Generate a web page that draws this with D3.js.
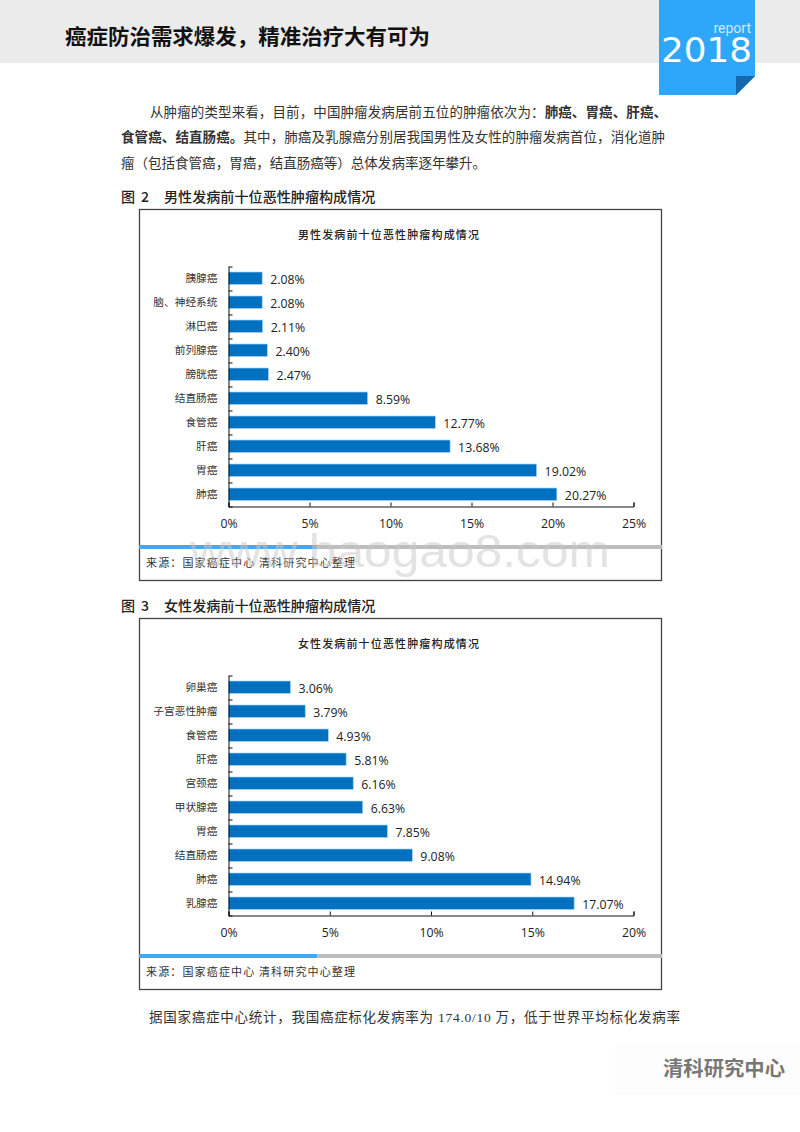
<!DOCTYPE html>
<meta charset="utf-8">
<style>
body { margin: 0; background: #fff; }
text { font-family: "Noto Sans CJK SC", sans-serif; fill: #222; }
.body { font-size: 13.5px; font-family: "Liberation Serif", "Noto Sans CJK SC"; fill: #333; }
.figtitle { font-size: 14.1px; font-weight: 500; }
.charttitle { font-size: 11px; font-weight: 500; letter-spacing: 1.15px; text-anchor: middle; }
.cat { font-size: 10.7px; fill: #333; }
.val, .xlab { font-family: "Open Sans", sans-serif; font-size: 12.3px; fill: #222; }
.source { font-size: 11px; letter-spacing: 1.15px; fill: #333; }
.domain, .tick line { stroke: #111; }
</style>
<svg id="page" width="800" height="1132"></svg>
<script src="https://d3js.org/d3.v7.min.js"></script>
<script>
// chart data, top row first
var maleCats = ["胰腺癌", "脑、神经系统", "淋巴癌", "前列腺癌", "膀胱癌", "结直肠癌", "食管癌", "肝癌", "胃癌", "肺癌"];
var maleVals = [2.08, 2.08, 2.11, 2.40, 2.47, 8.59, 12.77, 13.68, 19.02, 20.27];
var maleTicks = [0, 5, 10, 15, 20, 25];

var femaleCats = ["卵巢癌", "子宫恶性肿瘤", "食管癌", "肝癌", "宫颈癌", "甲状腺癌", "胃癌", "结直肠癌", "肺癌", "乳腺癌"];
var femaleVals = [3.06, 3.79, 4.93, 5.81, 6.16, 6.63, 7.85, 9.08, 14.94, 17.07];
var femaleTicks = [0, 5, 10, 15, 20];

var svg = d3.select("#page");

// page header
svg.append("rect").attr("width", 800).attr("height", 63).attr("fill", "#ebebeb");
svg.append("text").attr("x", 65).attr("y", 44)
    .attr("textLength", 365).attr("lengthAdjust", "spacingAndGlyphs")
    .style("font-size", "21px").style("font-weight", 700).style("fill", "#111")
    .text("癌症防治需求爆发，精准治疗大有可为");

// blue badge with folded corner
svg.append("path").attr("d", "M659 0H755V76L736 95H659Z").attr("fill", "#2ea7fb");
svg.append("path").attr("d", "M736 76H755L736 95Z").attr("fill", "#1568ab");
svg.append("text").attr("x", 751).attr("y", 33).attr("text-anchor", "end")
    .style("font-size", "14px").style("fill", "#cfe9ff").style("font-family", "Roboto").text("report");
svg.append("text").attr("x", 661).attr("y", 62)
    .attr("textLength", 91).attr("lengthAdjust", "spacingAndGlyphs")
    .style("font-family", "DejaVu Sans").style("font-size", "34px").style("fill", "#fff").text("2018");

// body paragraph, width = measured line length in the page
function para(x, y, width, parts) {
    var t = svg.append("text").attr("class", "body").attr("x", x).attr("y", y)
        .attr("textLength", width).attr("lengthAdjust", "spacing");
    parts.forEach(function (p) {
        t.append("tspan").style("font-weight", p[1] ? 700 : 400).text(p[0]);
    });
}
para(150, 117, 517, [["从肿瘤的类型来看，目前，中国肿瘤发病居前五位的肿瘤依次为：", 0], ["肺癌、胃癌、肝癌、", 1]]);
para(121, 142, 544, [["食管癌、结直肠癌。", 1], ["其中，肺癌及乳腺癌分别居我国男性及女性的肿瘤发病首位，消化道肿", 0]]);
para(121, 168, 365, [["瘤（包括食管癌，胃癌，结直肠癌等）总体发病率逐年攀升。", 0]]);
para(149, 1022, 531, [["据国家癌症中心统计，我国癌症标化发病率为 174.0/10 万，低于世界平均标化发病率", 0]]);

// one framed chart, top = upper edge of the frame
function drawChart(top, figNo, title, cats, vals, ticks) {
    var g = svg.append("g").attr("transform", "translate(0," + top + ")");

    svg.append("text").attr("class", "figtitle").attr("x", 121).attr("y", top - 7).text("图");
    svg.append("text").attr("class", "figtitle").attr("x", 141).attr("y", top - 7).text(figNo);
    svg.append("text").attr("class", "figtitle").attr("x", 164).attr("y", top - 7).text(title);

    g.append("rect").attr("x", 139.5).attr("y", 0.5).attr("width", 522).attr("height", 371)
        .attr("fill", "none").attr("stroke", "#444").attr("stroke-width", 1.3);

    g.append("text").attr("class", "charttitle").attr("x", 389).attr("y", 30).text(title);

    var x = d3.scaleLinear().domain([0, d3.max(ticks)]).range([228.5, 633.5]);
    var y = d3.scaleBand().domain(cats).range([57.5, 297.5]).paddingInner(0.5).paddingOuter(0.25);

    g.selectAll(".bar").data(vals).enter().append("rect")
        .attr("class", "bar")
        .attr("x", x(0))
        .attr("y", function (d, i) { return y(cats[i]) - 0.5; })
        .attr("width", function (d) { return x(d) - x(0); })
        .attr("height", y.bandwidth() + 0.5)
        .attr("fill", "#0070c0").attr("stroke", "#a9d3f0").attr("stroke-width", 0.7);

    g.selectAll(".val").data(vals).enter().append("text")
        .attr("class", "val")
        .attr("x", function (d) { return x(d) + 8; })
        .attr("y", function (d, i) { return y(cats[i]) + y.bandwidth() / 2 + 5; })
        .text(function (d) { return d.toFixed(2) + "%"; });

    // x axis: ticks point up into the plot
    var xAxis = g.append("g").attr("transform", "translate(0,297.5)")
        .call(d3.axisBottom(x).tickValues(ticks).tickSize(-4).tickSizeOuter(-4)
            .tickPadding(13).tickFormat(function (d) { return d + "%"; }));
    xAxis.selectAll("text").attr("class", "xlab");

    // y axis: ticks on band edges, labels from the band scale
    var edges = d3.scaleLinear().domain([0, cats.length]).range([57.5, 297.5]);
    g.append("g").attr("transform", "translate(228.5,0)")
        .call(d3.axisLeft(edges).ticks(cats.length).tickSize(-4).tickSizeOuter(0).tickFormat(""));
    var yAxis = g.append("g").attr("transform", "translate(228.5,0)")
        .call(d3.axisLeft(y).tickSize(0).tickPadding(11));
    yAxis.select(".domain").remove();
    yAxis.selectAll("text").attr("class", "cat");

    // divider and source
    g.append("rect").attr("x", 139).attr("y", 336).attr("width", 523).attr("height", 4).attr("fill", "#bdbdbd");
    g.append("rect").attr("x", 139).attr("y", 336).attr("width", 178).attr("height", 4).attr("fill", "#3fa9f5");
    g.append("text").attr("class", "source").attr("x", 146).attr("y", 358).text("来源：国家癌症中心 清科研究中心整理");
}

drawChart(209, 2, "男性发病前十位恶性肿瘤构成情况", maleCats, maleVals, maleTicks);
drawChart(618, 3, "女性发病前十位恶性肿瘤构成情况", femaleCats, femaleVals, femaleTicks);

// watermark
svg.append("text").attr("x", 190).attr("y", 567)
    .attr("textLength", 420).attr("lengthAdjust", "spacingAndGlyphs")
    .style("font-family", "Liberation Sans").style("font-size", "47px")
    .style("fill", "#c8c8c8").style("opacity", 0.5).text("www.baogao8.com");

// footer logo
svg.append("rect").attr("x", 615).attr("y", 1045).attr("width", 185).attr("height", 50).attr("fill", "#fdfdfd");
svg.append("text").attr("x", 663).attr("y", 1076)
    .attr("textLength", 122).attr("lengthAdjust", "spacingAndGlyphs")
    .style("font-size", "20px").style("font-weight", 700).style("fill", "#777").text("清科研究中心");
</script>
